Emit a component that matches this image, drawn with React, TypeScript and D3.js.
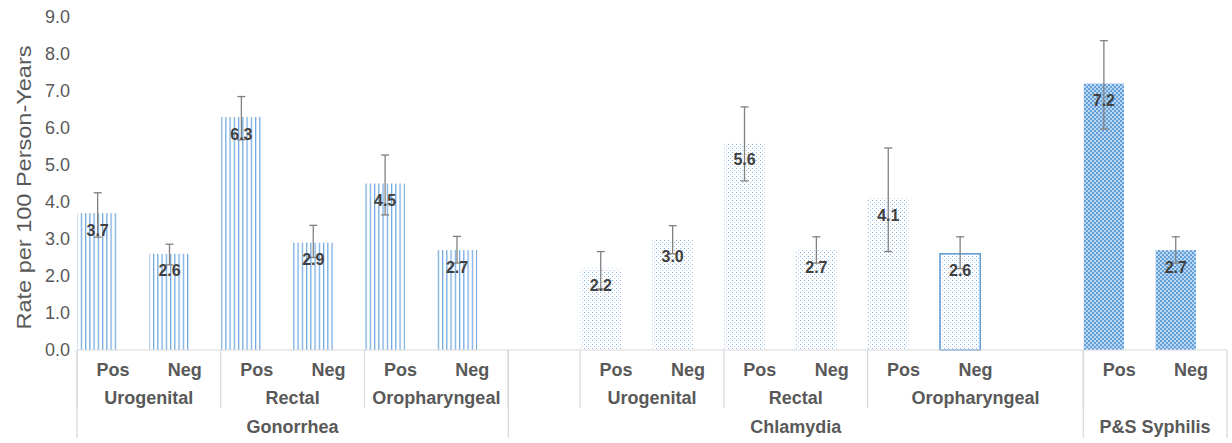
import React from "react";
import * as d3 from "d3";

const W = 1232;
const H = 443;

// One slot per category position; empty strings / nulls are spacer slots.
const statusLabels = ["Pos", "Neg", "Pos", "Neg", "Pos", "Neg", "", "Pos", "Neg", "Pos", "Neg", "Pos", "Neg", "", "Pos", "Neg"];
const rates: (number | null)[] = [3.7, 2.6, 6.3, 2.9, 4.5, 2.7, null, 2.2, 3.0, 5.6, 2.7, 4.1, 2.6, null, 7.2, 2.7];
const ciLow: (number | null)[] = [3.05, 2.3, 5.68, 2.5, 3.65, 2.35, null, 1.65, 2.6, 4.57, 2.35, 2.66, 2.2, null, 5.97, 2.35];
const ciHigh: (number | null)[] = [4.25, 2.86, 6.85, 3.37, 5.27, 3.07, null, 2.66, 3.36, 6.57, 3.06, 5.46, 3.06, null, 8.36, 3.06];
const slotDisease = [0, 0, 0, 0, 0, 0, 1, 1, 1, 1, 1, 1, 1, 1, 2, 2];
const outlinedSlots = [12];

const siteLabels = ["Urogenital", "Rectal", "Oropharyngeal", "", "Urogenital", "Rectal", "Oropharyngeal", ""];
const siteSpans = [2, 2, 2, 1, 2, 2, 3, 2];
const diseaseLabels = ["Gonorrhea", "Chlamydia", "P&S Syphilis"];
const diseaseSpans = [6, 8, 2];
const diseasePatterns = ["pat-stripes", "pat-dots", "pat-check"];

const yTicks = [0, 1, 2, 3, 4, 5, 6, 7, 8, 9];
const yTitle = "Rate per 100 Person-Years";

const FONT = "'Liberation Sans', Arial, Helvetica, sans-serif";
const GRAY = "#595959";
const AXIS = "#d9d9d9";

export default function App() {
  const x = d3.scaleBand<number>().domain(d3.range(statusLabels.length)).range([77, 1227]).padding(0);
  const y = d3.scaleLinear().domain([0, 9]).range([350, 17]);
  const bw = x.bandwidth();
  const barW = bw * 0.56;
  const barX = (i: number) => (x(i) as number) + 0.5;
  const barC = (i: number) => barX(i) + barW / 2;

  const axisY = y(0);
  const rowPos = axisY + 20;
  const rowSite = axisY + 48;
  const rowDisease = axisY + 77;
  const siteLineBottom = axisY + 58;
  const diseaseLineBottom = axisY + 88;

  const siteBounds: number[] = [];
  let acc = 0;
  siteSpans.forEach((s) => { siteBounds.push(acc); acc += s; });
  const diseaseBounds: number[] = [];
  acc = 0;
  diseaseSpans.forEach((s) => { diseaseBounds.push(acc); acc += s; });
  const edge = (k: number) => (k >= statusLabels.length ? x.range()[1] : (x(k) as number));

  return (
    <div style={{ position: "absolute", left: 0, top: 0 }}>
      <svg width={W} height={H} style={{ display: "block", background: "#fff" }}>
        <defs>
          <pattern id="pat-stripes" patternUnits="userSpaceOnUse" width={4.25} height={4}>
            <rect x={0} y={0} width={1.2} height={4} fill="#6aa5df" />
          </pattern>
          <pattern id="pat-dots" patternUnits="userSpaceOnUse" width={4} height={4}>
            <rect x={0} y={0} width={1} height={1} fill="#7eb1e6" />
            <rect x={2} y={2} width={1} height={1} fill="#a5c9ef" />
          </pattern>
          <pattern id="pat-check" patternUnits="userSpaceOnUse" width={4} height={4}>
            <rect x={0} y={0} width={4} height={4} fill="#bcd7f3" />
            <rect x={0} y={0} width={2} height={2} fill="#63a0da" />
            <rect x={2} y={2} width={2} height={2} fill="#63a0da" />
          </pattern>
        </defs>

        {/* Y axis ticks */}
        {yTicks.map((t) => (
          <text key={t} x={70} y={y(t)} dy="0.35em" textAnchor="end" fontFamily={FONT} fontSize={18} fill={GRAY}>
            {d3.format(".1f")(t)}
          </text>
        ))}
        <text
          transform={`translate(24,${(y(0) + y(9)) / 2 + 4}) rotate(-90)`}
          textAnchor="middle"
          dy="0.35em"
          fontFamily={FONT}
          fontSize={20}
          fill={GRAY}
          textLength={284}
          lengthAdjust="spacingAndGlyphs"
        >
          {yTitle}
        </text>

        {/* Bars */}
        {rates.map((v, i) =>
          v == null ? null : (
            <rect
              key={`b${i}`}
              x={barX(i)}
              y={y(v)}
              width={barW}
              height={y(0) - y(v)}
              fill={`url(#${diseasePatterns[slotDisease[i]]})`}
              stroke={outlinedSlots.includes(i) ? "#5b9bd5" : "none"}
              strokeWidth={1.5}
            />
          )
        )}

        {/* Error bars */}
        {rates.map((v, i) => {
          const lo = ciLow[i];
          const hi = ciHigh[i];
          if (v == null || lo == null || hi == null) return null;
          const cx = barC(i);
          return (
            <g key={`e${i}`} stroke="#808080" strokeWidth={1.3}>
              <line x1={cx} x2={cx} y1={y(hi)} y2={y(lo)} />
              <line x1={cx - 4} x2={cx + 4} y1={y(hi)} y2={y(hi)} />
              <line x1={cx - 4} x2={cx + 4} y1={y(lo)} y2={y(lo)} />
            </g>
          );
        })}

        {/* Value labels */}
        {rates.map((v, i) =>
          v == null ? null : (
            <text
              key={`l${i}`}
              x={barC(i)}
              y={y(v) + 17}
              dy="0.35em"
              textAnchor="middle"
              fontFamily={FONT}
              fontSize={16}
              fontWeight="bold"
              fill="#404040"
            >
              {d3.format(".1f")(v)}
            </text>
          )
        )}

        {/* Category axis */}
        <line x1={x.range()[0]} x2={x.range()[1]} y1={axisY} y2={axisY} stroke={AXIS} strokeWidth={1.2} />
        {siteBounds.map((b, k) => (
          <line key={`sl${k}`} x1={edge(b)} x2={edge(b)} y1={axisY} y2={siteLineBottom} stroke={AXIS} strokeWidth={1.2} />
        ))}
        {[...diseaseBounds, statusLabels.length].map((b, k) => (
          <line key={`dl${k}`} x1={edge(b)} x2={edge(b)} y1={axisY} y2={diseaseLineBottom} stroke={AXIS} strokeWidth={1.2} />
        ))}

        {statusLabels.map((s, i) =>
          s ? (
            <text key={`s${i}`} x={(x(i) as number) + bw / 2} y={rowPos} dy="0.35em" textAnchor="middle" fontFamily={FONT} fontSize={18} fontWeight="bold" fill={GRAY}>
              {s}
            </text>
          ) : null
        )}
        {siteLabels.map((s, k) =>
          s ? (
            <text key={`g${k}`} x={(edge(siteBounds[k]) + edge(siteBounds[k] + siteSpans[k])) / 2} y={rowSite} dy="0.35em" textAnchor="middle" fontFamily={FONT} fontSize={18} fontWeight="bold" fill={GRAY}>
              {s}
            </text>
          ) : null
        )}
        {diseaseLabels.map((s, k) => (
          <text key={`d${k}`} x={(edge(diseaseBounds[k]) + edge(diseaseBounds[k] + diseaseSpans[k])) / 2} y={rowDisease} dy="0.35em" textAnchor="middle" fontFamily={FONT} fontSize={18} fontWeight="bold" fill={GRAY}>
            {s}
          </text>
        ))}
      </svg>
    </div>
  );
}
